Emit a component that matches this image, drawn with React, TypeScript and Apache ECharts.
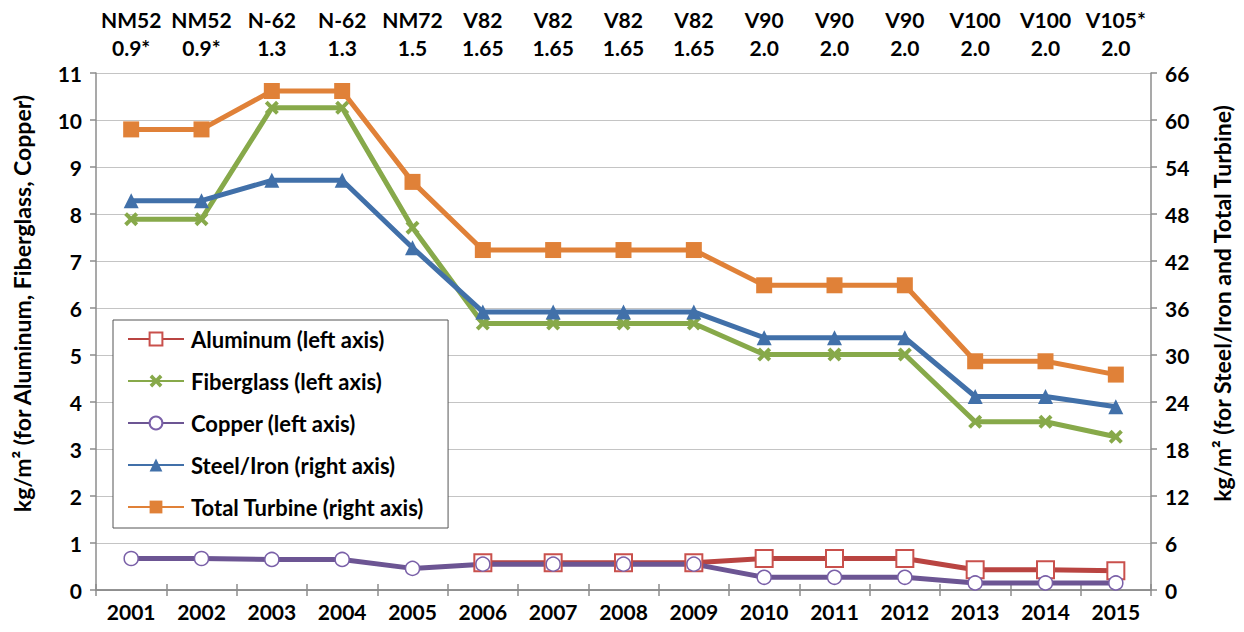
import React, { useEffect, useRef } from "react";
import * as echarts from "echarts";

const years = ["2001","2002","2003","2004","2005","2006","2007","2008","2009","2010","2011","2012","2013","2014","2015"];
const turbineModels = ["NM52","NM52","N-62","N-62","NM72","V82","V82","V82","V82","V90","V90","V90","V100","V100","V105*"];
const turbineMW = ["0.9*","0.9*","1.3","1.3","1.5","1.65","1.65","1.65","1.65","2.0","2.0","2.0","2.0","2.0","2.0"];

const aluminum = [null,null,null,null,null,0.58,0.58,0.58,0.58,0.67,0.67,0.67,0.43,0.43,0.41];
const fiberglass = [7.89,7.89,10.26,10.26,7.71,5.67,5.67,5.67,5.67,5.01,5.01,5.01,3.58,3.58,3.26];
const copper = [0.67,0.67,0.65,0.65,0.46,0.55,0.55,0.55,0.55,0.27,0.27,0.27,0.15,0.15,0.15];
const steelIron = [49.7,49.7,52.3,52.3,43.7,35.5,35.5,35.5,35.5,32.2,32.2,32.2,24.7,24.7,23.4];
const totalTurbine = [58.8,58.8,63.7,63.7,52.1,43.4,43.4,43.4,43.4,38.9,38.9,38.9,29.2,29.2,27.5];

const FONT = "Lato, 'Open Sans', sans-serif";
const X_PATH = "path://M2,0 L5,3 L8,0 L10,2 L7,5 L10,8 L8,10 L5,7 L2,10 L0,8 L3,5 L0,2 Z";

export default function App() {
  const ref = useRef<HTMLDivElement>(null);
  useEffect(() => {
    if (!ref.current) return;
    const chart = echarts.init(ref.current, undefined, { renderer: "svg" });
    const axisLine = { show: true, lineStyle: { color: "#8c8c8c", width: 1.5 } };
    const tick = { show: true, length: 6, lineStyle: { color: "#8c8c8c", width: 1.5 } };
    const labelStyle = { color: "#000", fontWeight: "bold" as const, fontSize: 21, fontFamily: FONT };
    const nameStyle = { color: "#000", fontWeight: "bold" as const, fontSize: 23, fontFamily: FONT, padding: [0, 0, 0, 56] };
    chart.setOption({
      animation: false,
      backgroundColor: "#fff",
      grid: { left: 96, right: 93, top: 73, bottom: 42, containLabel: false, outerBoundsMode: "none" },
      legend: {
        orient: "vertical",
        left: 113,
        top: 320,
        padding: [7, 24, 9, 14],
        itemGap: 18,
        itemWidth: 56,
        itemHeight: 16,
        backgroundColor: "#fff",
        borderColor: "#555",
        borderWidth: 1,
        textStyle: { color: "#000", fontWeight: "bold", fontSize: 22, fontFamily: FONT, padding: [0, 0, 0, 2], lineHeight: 24 },
        data: [
          "Aluminum (left axis)",
          "Fiberglass (left axis)",
          "Copper (left axis)",
          "Steel/Iron (right axis)",
          "Total Turbine (right axis)",
        ],
      },
      xAxis: [
        {
          type: "category",
          position: "bottom",
          data: years,
          boundaryGap: true,
          axisLine,
          axisTick: { ...tick, interval: 0 },
          axisLabel: { ...labelStyle, margin: 11, interval: 0 },
          splitLine: { show: false },
        },
        {
          type: "category",
          position: "top",
          data: years.map((_, i) => turbineModels[i] + "\n" + turbineMW[i]),
          boundaryGap: true,
          axisLine,
          axisTick: { ...tick, interval: 0 },
          axisLabel: { ...labelStyle, margin: 12, lineHeight: 28, interval: 0, hideOverlap: false },
          splitLine: { show: false },
        },
      ],
      yAxis: [
        {
          type: "value",
          min: 0,
          max: 11,
          interval: 1,
          position: "left",
          name: "kg/m² (for Aluminum, Fiberglass, Copper)",
          nameLocation: "middle",
          nameGap: 63,
          nameRotate: 90,
          nameTextStyle: nameStyle,
          axisLine,
          axisTick: tick,
          axisLabel: { ...labelStyle, margin: 14 },
          splitLine: { show: true, lineStyle: { color: "#c4c4c4", width: 1.2 } },
        },
        {
          type: "value",
          min: 0,
          max: 66,
          interval: 6,
          position: "right",
          name: "kg/m² (for Steel/Iron and Total Turbine)",
          nameLocation: "middle",
          nameGap: 59,
          nameRotate: 90,
          nameTextStyle: nameStyle,
          axisLine,
          axisTick: tick,
          axisLabel: { ...labelStyle, margin: 14 },
          splitLine: { show: false },
        },
      ],
      series: [
        {
          name: "Aluminum (left axis)",
          type: "line",
          yAxisIndex: 0,
          data: aluminum,
          symbol: "rect",
          symbolSize: 17,
          lineStyle: { color: "#b94441", width: 5 },
          itemStyle: { color: "#fff", borderColor: "#c9504c", borderWidth: 2 },
        },
        {
          name: "Fiberglass (left axis)",
          type: "line",
          yAxisIndex: 0,
          data: fiberglass,
          symbol: X_PATH,
          symbolSize: 14,
          lineStyle: { color: "#87a94a", width: 5 },
          itemStyle: { color: "#87a94a" },
        },
        {
          name: "Copper (left axis)",
          type: "line",
          yAxisIndex: 0,
          data: copper,
          symbol: "circle",
          symbolSize: 14,
          lineStyle: { color: "#6c5593", width: 5 },
          itemStyle: { color: "#fff", borderColor: "#7a60a8", borderWidth: 1.5 },
        },
        {
          name: "Steel/Iron (right axis)",
          type: "line",
          yAxisIndex: 1,
          data: steelIron,
          symbol: "triangle",
          symbolSize: 15,
          lineStyle: { color: "#4170a9", width: 5 },
          itemStyle: { color: "#4170a9" },
        },
        {
          name: "Total Turbine (right axis)",
          type: "line",
          yAxisIndex: 1,
          data: totalTurbine,
          symbol: "rect",
          symbolSize: 16,
          lineStyle: { color: "#e08138", width: 5 },
          itemStyle: { color: "#e08138" },
        },
      ],
    });
    return () => chart.dispose();
  }, []);
  return <div ref={ref} style={{ width: 1244, height: 632, margin: -8 }} />;
}
